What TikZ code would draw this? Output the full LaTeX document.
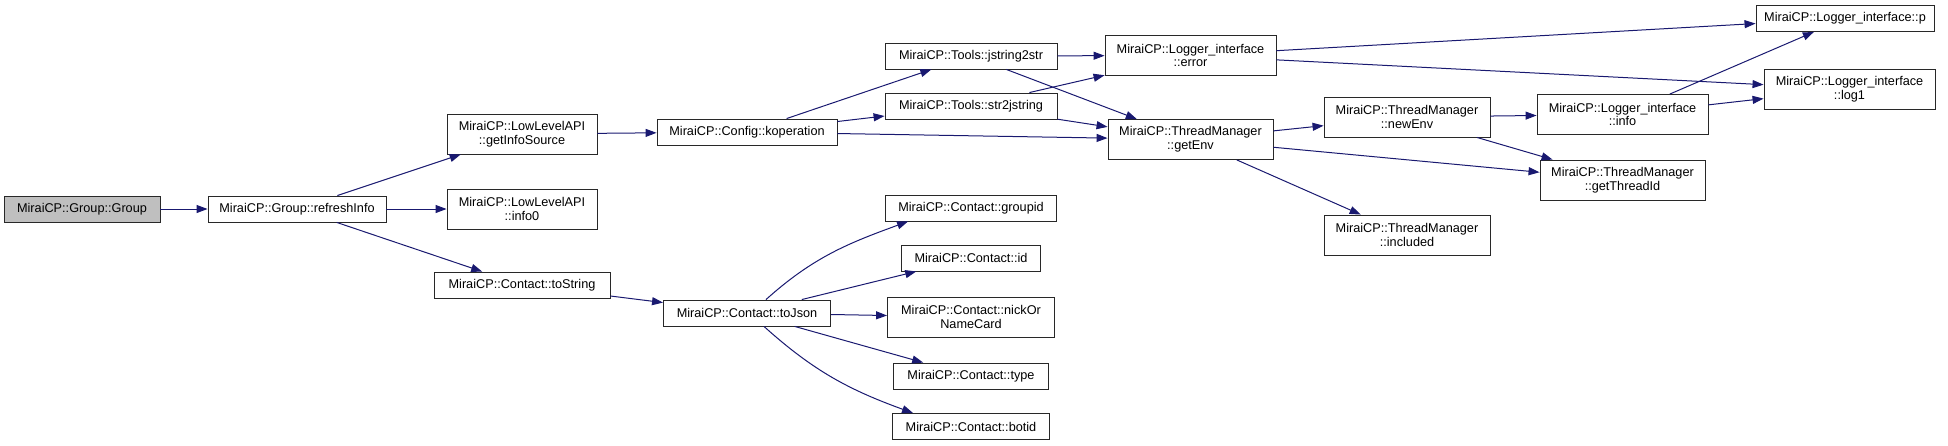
\documentclass[tikz,border=0pt]{standalone}
\usepackage{fontspec}
\setmainfont{Liberation Sans}
\usetikzlibrary{arrows.meta}
\definecolor{callc}{RGB}{25,25,112}
\definecolor{rootc}{RGB}{191,191,191}
\definecolor{boxc}{RGB}{40,40,40}

\begin{document}
\begin{tikzpicture}[x=1pt,y=1pt,font=\fontsize{12.7}{13.6}\selectfont,
  fn/.style={draw=boxc,line width=0.9pt,fill=white,align=center,inner sep=2pt,minimum height=26pt},
  fn2/.style={fn,minimum height=40pt},
  root/.style={fn,fill=rootc},
  call/.style={draw=callc,line width=1pt,-{Triangle[length=11pt,width=8pt]}}]

\useasboundingbox (0,0) rectangle (1948,-445);

%============================== caller side ==============================
\node[root,minimum width=156pt] (grp) at (82,-209) {MiraiCP::Group::Group};
\node[fn,minimum width=178pt] (rfi) at (297,-209) {MiraiCP::Group::refreshInfo};

\node[fn2,minimum width=150pt] (gis) at (522,-134) {MiraiCP::LowLevelAPI\\::getInfoSource};
\node[fn2,minimum width=150pt] (inf0) at (522,-209) {MiraiCP::LowLevelAPI\\::info0};
\node[fn,minimum width=176pt] (tostr) at (522,-285) {MiraiCP::Contact::toString};

%============================== config / tools ==============================
\node[fn,minimum width=180pt] (kop) at (747,-132) {MiraiCP::Config::koperation};
\node[fn,minimum width=172pt] (j2s) at (971,-56) {MiraiCP::Tools::jstring2str};
\node[fn,minimum width=172pt] (s2j) at (971,-106) {MiraiCP::Tools::str2jstring};

\node[fn2,minimum width=171pt] (err) at (1190.5,-55.5) {MiraiCP::Logger\_interface\\::error};
\node[fn2,minimum width=165pt] (genv) at (1190.5,-139.5) {MiraiCP::ThreadManager\\::getEnv};

\node[fn2,minimum width=166pt] (nenv) at (1407,-117) {MiraiCP::ThreadManager\\::newEnv};
\node[fn2,minimum width=166pt] (incl) at (1407,-235) {MiraiCP::ThreadManager\\::included};
\node[fn2,minimum width=171pt] (linfo) at (1622.5,-114.5) {MiraiCP::Logger\_interface\\::info};
\node[fn2,minimum width=165pt] (gtid) at (1622.5,-180) {MiraiCP::ThreadManager\\::getThreadId};

\node[fn,minimum width=178pt] (lp) at (1845,-18.5) {MiraiCP::Logger\_interface::p};
\node[fn2,minimum width=171pt] (log1) at (1849.5,-89) {MiraiCP::Logger\_interface\\::log1};

%============================== contact ==============================
\node[fn,minimum width=167pt] (tojs) at (747,-313) {MiraiCP::Contact::toJson};
\node[fn,minimum width=171pt] (gid) at (971,-208) {MiraiCP::Contact::groupid};
\node[fn,minimum width=139pt] (cid) at (971,-258) {MiraiCP::Contact::id};
\node[fn2,minimum width=167pt] (nick) at (971,-317) {MiraiCP::Contact::nickOr\\NameCard};
\node[fn,minimum width=155pt] (ctyp) at (971,-376) {MiraiCP::Contact::type};
\node[fn,minimum width=157pt] (bot) at (971,-426.5) {MiraiCP::Contact::botid};

%============================== calls ==============================
\foreach \a/\b in {grp/rfi,rfi/gis,rfi/inf0,rfi/tostr,gis/kop,tostr/tojs,
                   kop/j2s,kop/s2j,kop/genv,j2s/err,j2s/genv,s2j/err,s2j/genv,
                   err/lp,err/log1,genv/nenv,genv/gtid,genv/incl,
                   nenv/linfo,nenv/gtid,linfo/lp,linfo/log1,
                   tojs/cid,tojs/nick,tojs/ctyp}{\draw[call] (\a) -- (\b);}

\draw[call] ([xshift=19pt]tojs.north) to[out=42,in=200] ([xshift=23pt]gid.south west);
\draw[call] ([xshift=17pt]tojs.south) to[out=-42,in=160] ([xshift=21pt]bot.north west);
\end{tikzpicture}
\end{document}
